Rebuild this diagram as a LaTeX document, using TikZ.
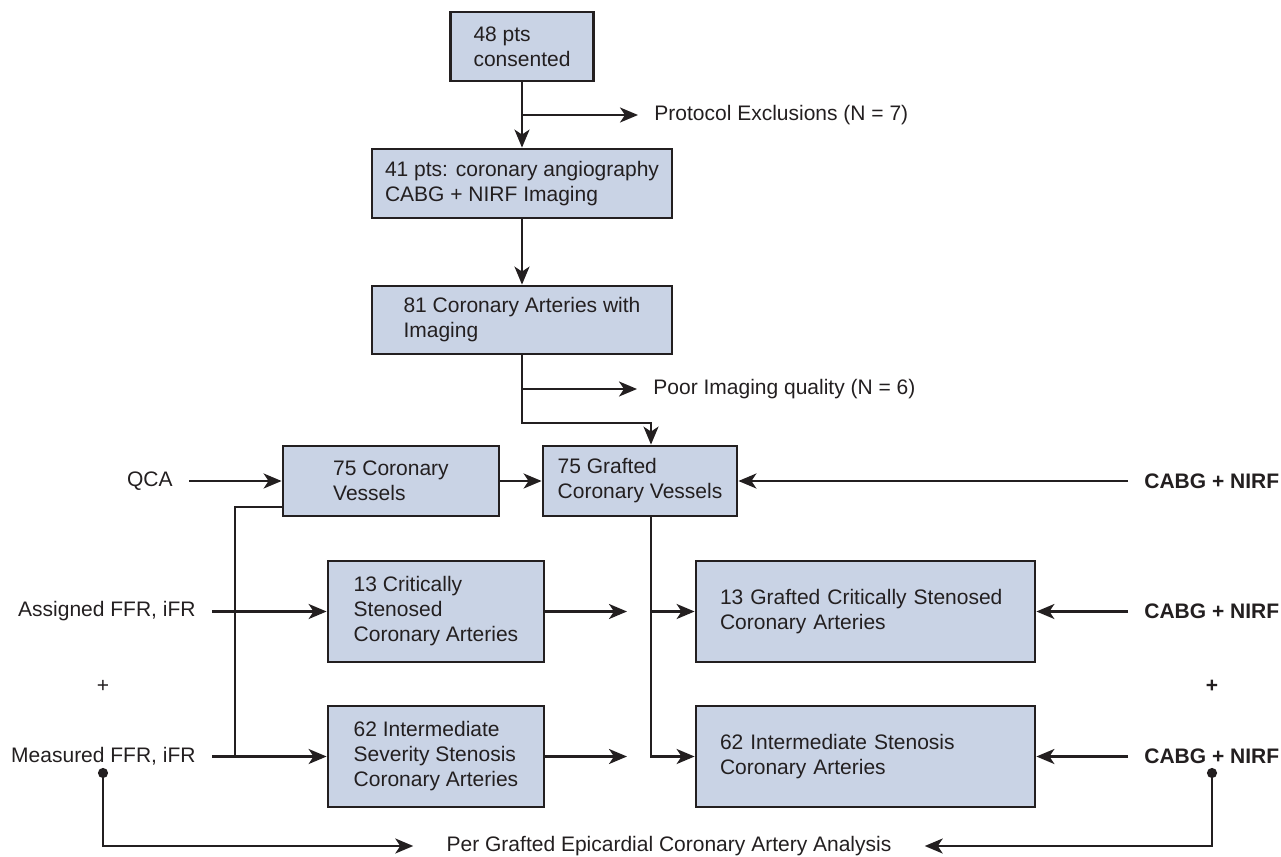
\documentclass[tikz,border=0pt]{standalone}
\usepackage{fontspec}
\setmainfont{Liberation Sans}
\usepackage{tikz}
\usetikzlibrary{arrows.meta}

\definecolor{boxblue}{RGB}{201,211,229}
\definecolor{ink}{RGB}{35,31,32}

\begin{document}
\begin{tikzpicture}[x=0.5pt,y=-0.5pt,
    font=\fontsize{10.5}{12.5}\selectfont, text=ink,
    box/.style={draw=ink,line width=1.4pt,fill=boxblue,align=left,inner sep=0pt},
    lbl/.style={inner xsep=8pt,inner ysep=2pt},
    ln/.style={draw=ink,line width=1.2pt},
    arr/.style={draw=ink,line width=1.2pt,-{Stealth[length=9pt,width=7.5pt,inset=2.5pt]}},
    dotarr/.style={draw=ink,line width=1.2pt,{Circle[length=5pt]}-{Stealth[length=9pt,width=7.5pt,inset=2.5pt]}}]

            \useasboundingbox (0,0) rectangle (1281,857);

            % Place the boxes
            \node[box,minimum width=71.5pt,minimum height=34.5pt] (b48) at (522,46.5) {48 pts\\consented};
            \node[box,minimum width=150pt,minimum height=34.5pt] (b41) at (522,183.5) {41 pts: coronary angiography\\CABG + NIRF Imaging};
            \node[box,minimum width=150pt,minimum height=34pt] (b81) at (522,320) {81 Coronary Arteries with\\Imaging};
            \node[box,minimum width=108pt,minimum height=35pt] (b75c) at (391,481) {75 Coronary\\Vessels};
            \node[box,minimum width=97pt,minimum height=35pt] (b75g) at (640,481) {75 Grafted\\Coronary Vessels};
            \node[box,minimum width=108pt,minimum height=50.5pt] (b13c) at (436,611.5) {13 Critically\\Stenosed\\Coronary Arteries};
            \node[box,minimum width=169.5pt,minimum height=50.5pt,text width=145.5pt] (b13g) at (865.5,611.5) {13 Grafted Critically Stenosed\\Coronary Arteries};
            \node[box,minimum width=108pt,minimum height=50.5pt] (b62i) at (436,756.5) {62 Intermediate\\Severity Stenosis\\Coronary Arteries};
            \node[box,minimum width=169.5pt,minimum height=50.5pt,text width=145.5pt] (b62g) at (865.5,756.5) {62 Intermediate Stenosis\\Coronary Arteries};

            % Place the labels
            \node[lbl,anchor=west] (excl) at (638,115) {Protocol Exclusions (N = 7)};
            \node[lbl,anchor=west] (poor) at (637,389) {Poor Imaging quality (N = 6)};
            \node[lbl,anchor=east] (qca) at (189,481) {QCA};
            \node[lbl,anchor=east] (asg) at (212,611.5) {Assigned FFR, iFR};
            \node[lbl,anchor=east] (meas) at (212,756.5) {Measured FFR, iFR};
            \node (plusl) at (103,686) {+};
            \node[lbl,anchor=west] (cabga) at (1128,481) {\textbf{CABG + NIRF}};
            \node[lbl,anchor=west] (cabgb) at (1128,611.5) {\textbf{CABG + NIRF}};
            \node[lbl,anchor=west] (cabgc) at (1128,756.5) {\textbf{CABG + NIRF}};
            \node (plusr) at (1212,686) {\textbf{+}};
            \node[lbl,inner xsep=16.5pt] (per) at (669,846) {Per Grafted Epicardial Coronary Artery Analysis};

            % Helper points
            \coordinate (g2) at (651,423);
            \coordinate (t1) at (235,507);
            \coordinate (gx) at (651,600);
            \coordinate (c13) at (627,611.5);
            \coordinate (c62) at (627,756.5);
            \coordinate (ldot) at (103,768);
            \coordinate (rdot) at (1212,768);

            % The lines!
            \draw[arr] (b48) -- (b41);
            \draw[arr] (b48.south |- excl.west) -- (excl.west);
            \draw[arr] (b41) -- (b81);
            \draw[arr] (b81.south) |- (g2) -- (b75g.north -| g2);
            \draw[arr] (b81.south |- poor.west) -- (poor.west);
            \draw[arr] (qca.east) -- (b75c.west);
            \draw[arr] (b75c) -- (b75g);
            \draw[arr] (cabga.west) -- (b75g.east);
            \draw[ln] (b75c.west |- t1) -- (t1) -- (t1 |- b62i.west);
            \draw[arr] (asg.east) -- (b13c.west);
            \draw[arr] (meas.east) -- (b62i.west);
            \draw[arr] (b13c.east) -- (c13);
            \draw[arr] (b62i.east) -- (c62);
            \draw[arr] (b75g.south -| gx) |- (b62g.west);
            \draw[arr] (gx |- b13g.west) -- (b13g.west);
            \draw[arr] (cabgb.west) -- (b13g.east);
            \draw[arr] (cabgc.west) -- (b62g.east);
            \draw[dotarr] (ldot) |- (per.west);
            \draw[dotarr] (rdot) |- (per.east);
        \end{tikzpicture}
\end{document}
